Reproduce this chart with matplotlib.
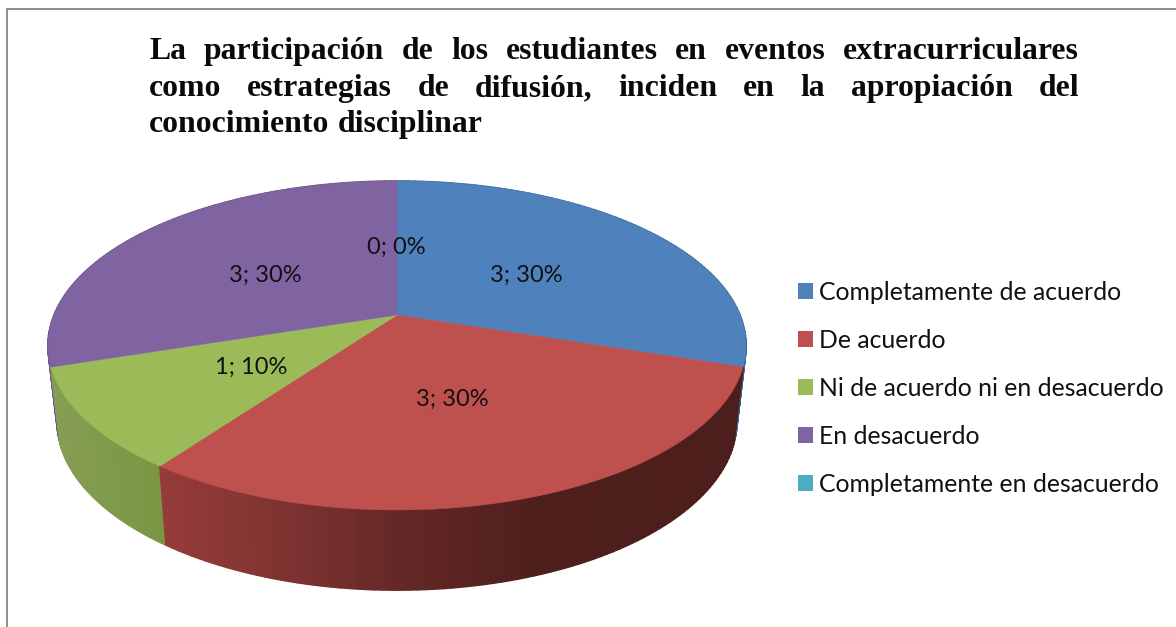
import numpy as np
import matplotlib
matplotlib.use("Agg")
import matplotlib.pyplot as plt
from matplotlib.collections import PolyCollection
from matplotlib.patches import Polygon, Patch

categories = ["Completamente de acuerdo", "De acuerdo", "Ni de acuerdo ni en desacuerdo",
              "En desacuerdo", "Completamente en desacuerdo"]
values = [3, 3, 1, 3, 0]
colors = ["#4F81BD", "#BE504D", "#9BBB59", "#8064A2", "#4BACC6"]
title_lines = ["La participación de los estudiantes en eventos extracurriculares",
               "como estrategias de difusión, inciden en la apropiación del",
               "conocimiento disciplinar"]

# layout (pixels)
W, H = 1176, 627
CX, CY, A, B, K = 397.0, 315.0, 158.8, 343.0, 0.1854
BY, BA, BB = 390.0, 163.0, 334.0
label_xy = [(526, 275), (452, 399), (251, 367), (265, 275), (396, 247)]

fig = plt.figure(figsize=(W / 100, H / 100), dpi=100, facecolor="white")
ax = fig.add_axes([0, 0, 1, 1])
ax.set_xlim(0, W)
ax.set_ylim(H, 0)
ax.axis("off")


def top_pt(t):
    x, y = np.sin(t), -np.cos(t)
    w = 1 - K * y
    return CX + B * x / w, CY + A * y / w


def bot_pt(t):
    x, y = np.sin(t), -np.cos(t)
    w = 1 - K * y
    return CX + BB * x / w, BY + BA * y / w


def side_color(i, xpos):
    if i == 1:
        xs = [160, 300, 400, 540, 760]
        rgb = [(150, 60, 58), (122, 50, 48), (100, 40, 38), (78, 31, 29), (76, 30, 28)]
    elif i == 2:
        xs = [50, 160]
        rgb = [(134, 158, 84), (122, 150, 66)]
    elif i == 3:
        xs = [40, 160]
        rgb = [(110, 85, 140), (100, 78, 128)]
    else:
        xs = [600, 760]
        rgb = [(60, 100, 150), (60, 100, 150)]
    rgb = np.array(rgb, float)
    return tuple(np.interp(xpos, xs, rgb[:, c]) / 255 for c in range(3))


fractions = np.array(values, float) / sum(values)
edges = np.concatenate([[0], np.cumsum(fractions)]) * 2 * np.pi

# sides, back to front
polys, cols = [], []
for i in [0, 3, 2, 1]:
    ts = np.linspace(edges[i], edges[i + 1], 90)
    for t0, t1 in zip(ts[:-1], ts[1:]):
        xa, ya = top_pt(t0)
        xb, yb = top_pt(t1)
        xc, yc = bot_pt(t1)
        xd, yd = bot_pt(t0)
        polys.append([(xa, ya), (xb, yb), (xc, yc), (xd, yd)])
        cols.append(side_color(i, (xa + xb) / 2))
ax.add_collection(PolyCollection(polys, facecolors=cols, edgecolors=cols, linewidths=1.2))

# top face
for i, frac in enumerate(fractions):
    if frac == 0:
        continue
    ts = np.linspace(edges[i], edges[i + 1], 200)
    xs, ys = top_pt(ts)
    pts = np.column_stack([np.r_[CX, xs], np.r_[CY, ys]])
    ax.add_patch(Polygon(pts, closed=True, facecolor=colors[i], edgecolor=colors[i], lw=0.4))

# data labels
for v, f, (lx, ly) in zip(values, fractions, label_xy):
    ax.text(lx, ly, f"{v}; {f * 100:.0f}%", family="Lato", fontsize=17, color="#111111",
            ha="center", va="center")

# frame
ax.plot([7, 7, W + 2], [H + 2, 9, 9], color="#8C8C8C", lw=1.4, solid_joinstyle="miter", clip_on=False)

# justified title
renderer = fig.canvas.get_renderer()
X0, X1 = 149, 1079
for k, (line, base) in enumerate(zip(title_lines, [59, 96, 132])):
    words = line.split()
    artists = [ax.text(0, base, w, family="Liberation Serif", weight="bold", fontsize=22.9,
                       color="#0A0A0A", ha="left", va="baseline") for w in words]
    widths = [a.get_window_extent(renderer).width for a in artists]
    if k < 2:
        gap = (X1 - X0 - sum(widths)) / (len(words) - 1)
    else:
        gap = 8.0
    x = X0
    for a, wd in zip(artists, widths):
        a.set_x(x)
        x += wd + gap

# legend
handles = [Patch(facecolor=c, edgecolor=c, lw=0) for c in colors]
ax.legend(handles, categories, loc="upper left", bbox_to_anchor=(798 / W, 1 - 281 / H),
          bbox_transform=fig.transFigure, frameon=False, prop={"family": "Lato", "size": 17.8},
          handlelength=0.61, handleheight=0.61, handletextpad=0.22, labelspacing=1.01,
          borderaxespad=0, borderpad=0, labelcolor="#111111")

fig.savefig("out.png", dpi=100)
